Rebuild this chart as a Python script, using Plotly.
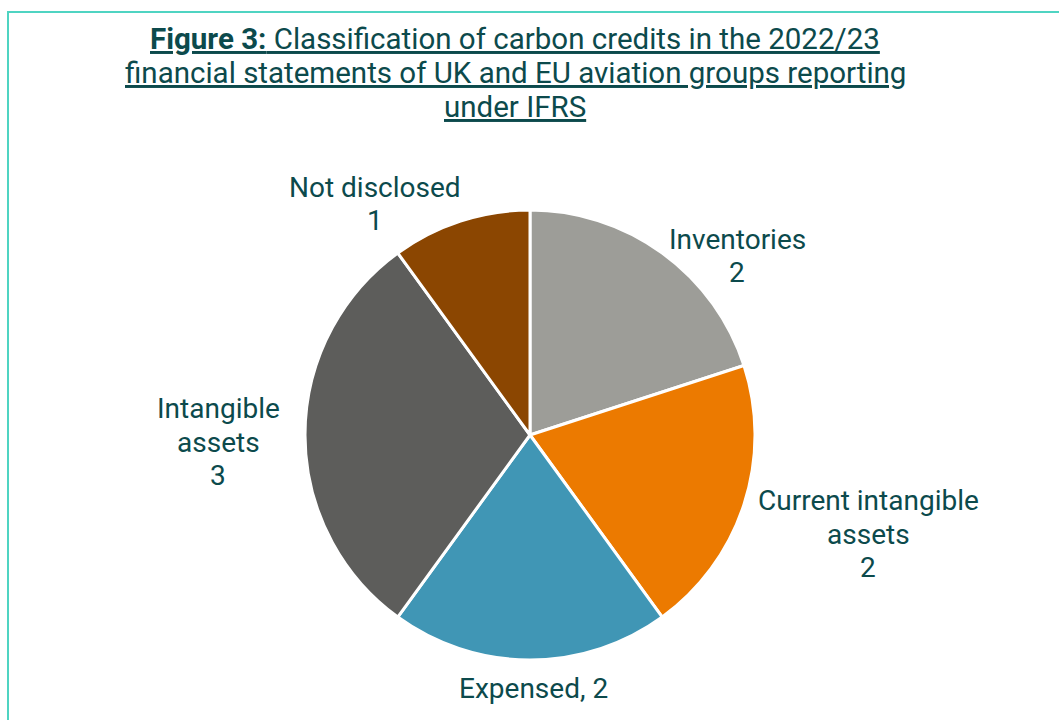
import plotly.graph_objects as go

categories = ["Inventories", "Current intangible assets", "Expensed", "Intangible assets", "Not disclosed"]
label_lines = [["Inventories", "2"], ["Current intangible", "assets", "2"], ["Expensed, 2"],
               ["Intangible", "assets", "3"], ["Not disclosed", "1"]]
values = [2, 2, 2, 3, 1]
colors = ["#9d9d98", "#ec7a00", "#4096b5", "#5d5d5b", "#8b4601"]
title_lines = [
    "<u><b>Figure 3:</b> Classification of carbon credits in the 2022/23</u>",
    "<u>financial statements of UK and EU aviation groups reporting</u>",
    "<u>under IFRS</u>",
]

# layout: label block centres as pixel offsets from the pie centre
label_offsets = [(207, -179), (338, 99), (3, 253), (-312, 7), (-155, -231)]

W, H = 1059, 720
text_color = "#0c4a4c"
cx, cy, r = 530, 435, 225
LS = 33.5  # label line spacing in px

fig = go.Figure(go.Pie(
    labels=categories,
    values=values,
    textinfo="none",
    sort=False,
    direction="clockwise",
    rotation=0,
    marker=dict(colors=colors, line=dict(color="white", width=3)),
    domain=dict(x=[(cx - r) / W, (cx + r) / W], y=[1 - (cy + r) / H, 1 - (cy - r) / H]),
    showlegend=False,
    hoverinfo="label+value",
))

annotations = []
for i, line in enumerate(title_lines):
    annotations.append(dict(
        text=line, xref="paper", yref="paper",
        x=515 / W, xanchor="center",
        y=1 - (39 + 34 * i) / H, yanchor="middle",
        showarrow=False,
        font=dict(family="Roboto", size=29.5, color=text_color),
    ))

for lines, val, (dx, dy) in zip(label_lines, values, label_offsets):
    n = len(lines)
    for j, t in enumerate(lines):
        ypx = cy + dy + (j - (n - 1) / 2) * LS
        annotations.append(dict(
            text=t, xref="paper", yref="paper",
            x=(cx + dx) / W, xanchor="center",
            y=1 - ypx / H, yanchor="middle",
            showarrow=False,
            font=dict(family="Roboto", size=28, color=text_color),
        ))

fig.update_layout(
    width=W, height=H,
    margin=dict(l=0, r=0, t=0, b=0),
    paper_bgcolor="white",
    plot_bgcolor="white",
    font=dict(family="Roboto", color=text_color),
    annotations=annotations,
    shapes=[dict(
        type="rect", xref="paper", yref="paper",
        x0=8 / W, x1=1.05, y0=-0.05, y1=1 - 12 / H,
        line=dict(color="#4fd4c2", width=2),
        fillcolor="rgba(0,0,0,0)",
    )],
)

fig.write_html("out.html")
